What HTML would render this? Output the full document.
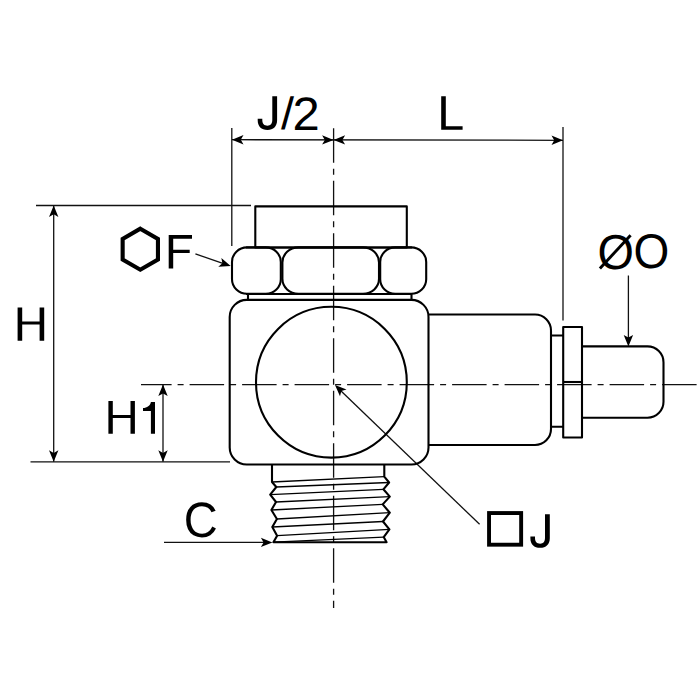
<!DOCTYPE html>
<html><head><meta charset="utf-8">
<style>
html,body{margin:0;padding:0;background:#fff;width:700px;height:700px;overflow:hidden}
svg{display:block}
</style></head>
<body>
<svg width="700" height="700" viewBox="0 0 700 700">
<defs>
<path id="ah" d="M0 0L11.5-4.7L8.8 0L11.5 4.7Z" fill="#000"/>
</defs>
<rect x="0" y="0" width="700" height="700" fill="#fff"/>

<!-- thin dimension lines -->
<g stroke="#111" stroke-width="1.3" fill="none">
  <line x1="232" y1="139.7" x2="563" y2="140.3"/>
  <line x1="231.8" y1="128" x2="231.8" y2="246"/>
  <line x1="563" y1="127" x2="563" y2="320.5"/>
  <line x1="36" y1="205.5" x2="251" y2="205.5"/>
  <line x1="30.5" y1="461.8" x2="230" y2="461.8"/>
  <line x1="53.7" y1="205.5" x2="53.7" y2="461.8"/>
  <line x1="163" y1="384.6" x2="163" y2="461.8"/>
  <line x1="195.4" y1="253.9" x2="225" y2="264.1"/>
  <line x1="479.6" y1="524.3" x2="340" y2="390"/>
  <line x1="164" y1="542.4" x2="265" y2="542.4"/>
  <line x1="628.4" y1="275.5" x2="628.4" y2="340"/>
</g>
<!-- centerlines -->
<g stroke="#111" stroke-width="1.3" fill="none">
  <line x1="333.6" y1="127.7" x2="333.6" y2="608" stroke-dasharray="34.5 6 6 6" stroke-dashoffset="-0.6"/>
  <line x1="141" y1="384.6" x2="698" y2="384.6" stroke-dasharray="34.5 6 6 6" stroke-dashoffset="3.9"/>
</g>
<!-- arrowheads -->
<use href="#ah" transform="translate(232,139.7)"/>
<use href="#ah" transform="translate(333.6,139.9) rotate(180)"/>
<use href="#ah" transform="translate(333.6,139.9)"/>
<use href="#ah" transform="translate(563,140.3) rotate(180)"/>
<use href="#ah" transform="translate(53.7,205.5) rotate(90)"/>
<use href="#ah" transform="translate(53.7,461.8) rotate(-90)"/>
<use href="#ah" transform="translate(163,384.6) rotate(90)"/>
<use href="#ah" transform="translate(163,461.8) rotate(-90)"/>
<use href="#ah" transform="translate(230.7,266.1) rotate(199.07)"/>
<use href="#ah" transform="translate(335,385) rotate(44)"/>
<use href="#ah" transform="translate(272.4,542.4) rotate(180)"/>
<use href="#ah" transform="translate(628.4,346.4) rotate(-90)"/>

<!-- part outlines -->
<g stroke="#000" stroke-width="2.1" fill="none" stroke-linejoin="round">
  <rect x="255.3" y="206.4" width="151.5" height="41.1"/>
  <line x1="246" y1="247.5" x2="412" y2="247.5"/>
  <line x1="246" y1="294" x2="412" y2="294"/>
  <rect x="232" y="247.4" width="48.8" height="46.4" rx="15" ry="14.5"/>
  <rect x="282.4" y="247.4" width="96.6" height="46.4" rx="16" ry="15"/>
  <rect x="380.2" y="247.4" width="46" height="46.4" rx="15" ry="14.5"/>
  <rect x="248" y="294" width="163.5" height="6"/>
  <rect x="229.7" y="299.9" width="198.8" height="164.6" rx="17" ry="17"/>
  <circle cx="331.4" cy="382.2" r="75.4"/>
  <path d="M428.5 314.5H535A16 16 0 0 1 551 330.5V429A16 16 0 0 1 535 445H428.5"/>
  <path d="M551 335.5H563.2M551 426.8H563.2"/>
  <rect x="563.2" y="327" width="18.8" height="110.5"/>
  <line x1="563.2" y1="382" x2="582" y2="382"/>
  <path d="M582 346.4H647.5A16 16 0 0 1 663.5 362.4V401.8A16 16 0 0 1 647.5 417.8H582"/>
  <path d="M272 464.5V482L276.3 487L270.2 494.6L276 502L271.4 510L276.9 519L272.3 527L277.1 535.7L273.4 542.2H386.6L383.7 537.1L389.4 529.4L383 521.5L389.8 512.7L382.7 504.4L389.8 496.6L383.4 489.3L389.1 482.5L384.3 476.7V464.5"/>
</g>
<g stroke="#000" stroke-width="1.35" fill="none">
  <line x1="272" y1="482" x2="384.3" y2="476.7"/>
  <line x1="276.3" y1="487" x2="389.1" y2="482.5"/>
  <line x1="270.2" y1="494.6" x2="383.4" y2="489.3"/>
  <line x1="276" y1="502" x2="389.8" y2="496.6"/>
  <line x1="271.4" y1="510" x2="382.7" y2="504.4"/>
  <line x1="276.9" y1="519" x2="389.8" y2="512.7"/>
  <line x1="272.3" y1="527" x2="383" y2="521.5"/>
  <line x1="277.1" y1="535.7" x2="389.4" y2="529.4"/>
  <line x1="273.4" y1="542.2" x2="383.7" y2="537.1"/>
</g>
<!-- symbols -->
<polygon points="140.3,228.7 157.95,238.95 157.95,259.45 140.3,269.7 122.65,259.45 122.65,238.95" fill="none" stroke="#000" stroke-width="4.1" stroke-linejoin="miter"/>
<rect x="489.05" y="513.05" width="32.1" height="31.65" fill="none" stroke="#000" stroke-width="3.9"/>

<!-- labels -->
<g font-family="Liberation Sans, sans-serif" font-size="100" fill="#000" text-rendering="geometricPrecision">
  <text transform="matrix(0.46791 0 0 0.45345 281.100 129.257)">/</text>
  <text transform="matrix(0.48950 0 0 0.46832 292.538 129.700)">2</text>
  <text transform="matrix(0.47055 0 0 0.49576 183.810 536.616)">C</text>
  <text transform="matrix(0.46878 0 0 0.49152 597.480 268.620)">O</text>
  <text transform="matrix(0.45999 0 0 0.48870 633.521 268.423)">O</text>
</g>
<path d="M17.6 307.6H22.200000000000003V340.7H17.6ZM39.6 307.6H44.2V340.7H39.6ZM22.19 321.4H39.61V324.6H22.19ZM108.4 401H112.80000000000001V433.7H108.4ZM130.5 401H134.9V433.7H130.5ZM112.79 414.9H130.51V418.1H112.79ZM441.2 96.2H445.8V129.75H441.2ZM445.79 126.15H462.6V129.75H445.79ZM168.7 234.9H173.2V268.5H168.7ZM173.19 234.9H192V238.8H173.19ZM173.19 249.7H189.7V253H173.19ZM150.9 402H155V433.7H150.9V411.1H143V408C147 408 150.4 405.5 150.9 402Z" fill="#000"/>
<path d="M0 0H4.8V24C4.8 30.2 1 33.6-4.8 33.6C-11 33.6-14.6 30.2-14.6 24V22.4H-10V23.8C-10 27.6-8 29.5-4.9 29.5C-1.6 29.5 0 27.6 0 23.3Z" transform="translate(272.3,96.3)" fill="#000"/>
<path d="M0 0H4.8V24C4.8 30.2 1 33.6-4.8 33.6C-11 33.6-14.6 30.2-14.6 24V22.4H-10V23.8C-10 27.6-8 29.5-4.9 29.5C-1.6 29.5 0 27.6 0 23.3Z" transform="translate(545,514.2)" fill="#000"/>
<line x1="599.9" y1="268.4" x2="630.6" y2="235.3" stroke="#000" stroke-width="2.9"/>
</svg>
</body></html>
